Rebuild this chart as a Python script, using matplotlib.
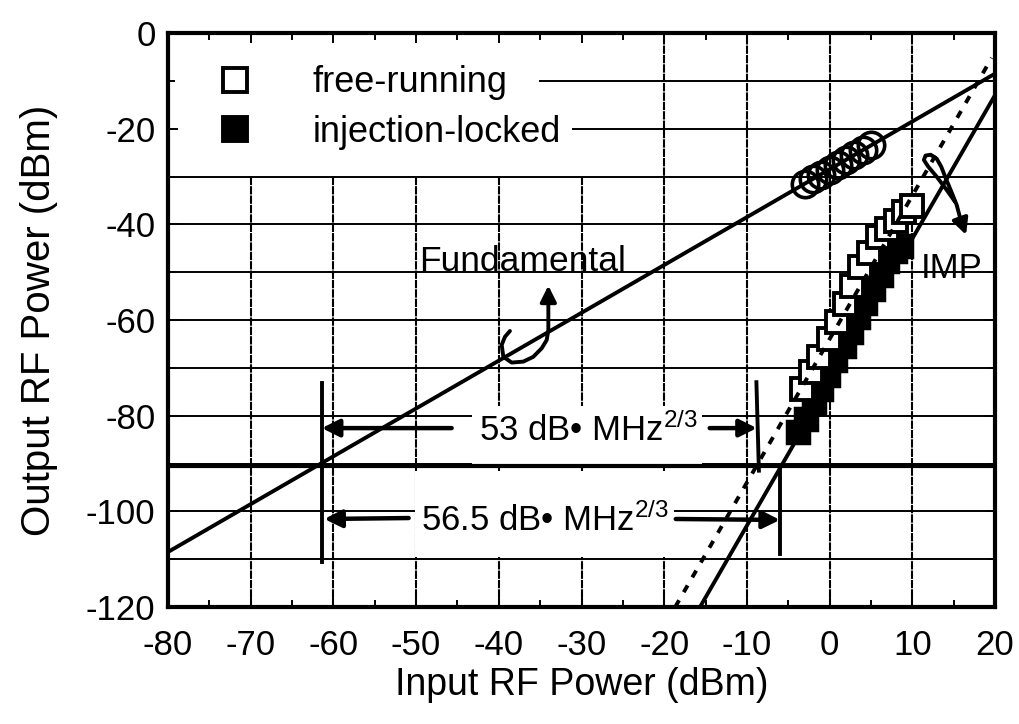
import matplotlib.pyplot as plt
from matplotlib.lines import Line2D
from matplotlib.patches import Rectangle
from matplotlib.ticker import MultipleLocator

plt.rcParams['font.family'] = ['Liberation Sans', 'DejaVu Sans']
plt.rcParams['mathtext.fontset'] = 'custom'
plt.rcParams['mathtext.rm'] = 'Liberation Sans'
plt.rcParams['mathtext.it'] = 'Liberation Sans'
plt.rcParams['axes.unicode_minus'] = False

# fitted lines (input dBm -> output dBm)
fund_x = [-80, 20]
fund_y = [-108.5, -8.5]
imp_x = [-15.67, 20]
imp_y = [-120, -13]
imp_dash_x = [-18.67, 19.6]
imp_dash_y = [-120, -5.2]

# measured fundamental (circles)
circ_x = [-3, -2, -1, 0, 1, 2, 3, 4, 5]
circ_y = [-31.5, -30.6, -29.6, -28.6, -27.5, -26.6, -25.6, -24.5, -23.4]

# measured IMP
free_x = [-3.3, -2.3, -1.3, -0.1, 0.9, 1.9, 2.7, 3.7, 4.8, 5.8, 7.0, 8.0, 9.0, 10.0]
free_y = [-74.4, -70.9, -67.8, -64.0, -60.5, -56.7, -52.8, -49.0, -45.9, -42.7,
          -41.0, -39.2, -37.5, -36.1]
lock_x = [-3.8, -2.9, -1.9, -1.0, -0.2, 0.7, 1.7, 2.6, 3.4, 4.3, 5.3, 6.2, 7.0, 7.9, 8.6]
lock_y = [-83.5, -80.6, -77.4, -74.5, -71.6, -68.4, -65.5, -62.6, -59.4, -56.5,
          -53.6, -50.5, -47.6, -45.5, -44.5]

# dynamic range markers
floor_y = -90.5
vline_left = -61.4
vline_dash = -8.8
vline_solid = -6.0
label_sfdr1 = '53 dB\u2022 MHz$^{2/3}$'
label_sfdr2 = '56.5 dB\u2022 MHz$^{2/3}$'

# hand-drawn pointer paths (data coords)
fund_hook_x = [-38.65, -39.25, -39.65, -39.45, -38.44, -37.04, -35.83, -34.81, -34.21, -34.01, -34.01]
fund_hook_y = [-62.3, -63.5, -65.2, -67.7, -68.9, -68.7, -67.7, -65.9, -64.2, -62.1, -56.4]
fund_hook_tip = (-34.01, -52.8)
imp_loop_x = [15.16, 14.16, 12.95, 11.93, 11.40, 11.60, 12.22, 12.96, 13.50, 14.05, 14.80, 15.37, 15.85]
imp_loop_y = [-35.27, -32.82, -30.04, -27.95, -26.55, -25.62, -25.45, -26.31, -27.95, -30.38, -33.51, -35.96, -39.10]
imp_loop_tip = (16.5, -42.2)

fig = plt.figure(figsize=(10.19, 7.24), dpi=100)
ax = fig.add_axes([168 / 1019, 1 - 607 / 724, 827 / 1019, 574 / 724])
ax.set_xlim(-80, 20)
ax.set_ylim(-120, 0)

# grid, broken where the legend sits
h_grid = [-110, -100, -90, -80, -70, -60, -50, -40, -30, -20, -10]
h_start = [-80, -80, -80, -80, -80, -80, -80, -80, -80, -31, -35]
for y, x0 in zip(h_grid, h_start):
    ax.plot([x0, 20], [y, y], color='k', lw=1.4, zorder=1)
v_grid = [-70, -60, -50, -40, -30, -20, -10, 0, 10]
for x in v_grid:
    top = -30 if x <= -30 else 0
    ax.plot([x, x], [-120, top], color='k', lw=1.5, ls=(0, (4, 0.5)), zorder=1)

# white label boxes
ax.add_patch(Rectangle((-43.2, -90.0), 27.8, 12.0, facecolor='white', edgecolor='none', zorder=2))
ax.add_patch(Rectangle((-50.1, -109.6), 31.3, 18.0, facecolor='white', edgecolor='none', zorder=2))

ax.plot([-80, 20], [floor_y, floor_y], color='k', lw=3.0, zorder=3)

ax.plot(lock_x, lock_y, ls='none', marker='s', ms=16, mfc='k', mec='k', mew=2.5, zorder=4)
ax.plot(free_x, free_y, ls='none', marker='s', ms=16.5, mfc='white', mec='k', mew=2.8, zorder=5)
ax.plot(circ_x, circ_y, ls='none', marker='o', ms=19, mfc='none', mec='k', mew=2.6, zorder=5)

ax.plot(fund_x, fund_y, color='k', lw=2.8, zorder=6)
ax.plot(imp_x, imp_y, color='k', lw=2.8, zorder=6)
ax.plot(imp_dash_x, imp_dash_y, color='k', lw=2.8, ls=(0, (2.0, 2.4)), zorder=6)

# range markers
ax.plot([vline_left, vline_left], [-73.2, -110.6], color='k', lw=2.8, zorder=6)
ax.plot([vline_dash - 0.05, vline_dash + 0.25], [-73.0, -91.5], color='k', lw=2.8, zorder=6)
ax.plot([vline_solid, vline_solid], [-91.0, -109.0], color='k', lw=2.8, zorder=6)

arrow = dict(arrowstyle='-|>', color='k', lw=3.2, mutation_scale=26, shrinkA=0, shrinkB=0)
ax.annotate('', xy=(vline_left, -82.6), xytext=(-45.7, -82.6), arrowprops=arrow, zorder=7)
ax.annotate('', xy=(vline_dash, -82.6), xytext=(-14.5, -82.6), arrowprops=arrow, zorder=7)
ax.annotate('', xy=(vline_left + 0.3, -101.6), xytext=(-50.9, -101.4), arrowprops=arrow, zorder=7)
ax.annotate('', xy=(vline_solid, -101.8), xytext=(-18.6, -101.6), arrowprops=arrow, zorder=7)
ax.text(-29.2, -83.0, label_sfdr1, fontsize=25, ha='center', va='center', zorder=7)
ax.text(-34.4, -101.8, label_sfdr2, fontsize=25, ha='center', va='center', zorder=7)

# curly pointers
hook = dict(arrowstyle='-|>', color='k', lw=2.8, mutation_scale=24, shrinkA=0, shrinkB=0)
ax.plot(fund_hook_x, fund_hook_y, color='k', lw=2.8, zorder=7, solid_capstyle='round')
ax.annotate('', xy=fund_hook_tip, xytext=(fund_hook_x[-1], fund_hook_y[-1]), arrowprops=hook)
ax.plot(imp_loop_x, imp_loop_y, color='k', lw=2.8, zorder=7, solid_capstyle='round')
ax.annotate('', xy=imp_loop_tip, xytext=(imp_loop_x[-1], imp_loop_y[-1]), arrowprops=hook)

ax.text(-49.6, -49.8, 'Fundamental', fontsize=25.5, ha='left', va='baseline', zorder=7)
ax.text(11.0, -51.2, 'IMP', fontsize=25, ha='left', va='baseline', zorder=7)

handles = [
    Line2D([], [], ls='none', marker='s', ms=16.5, mfc='white', mec='k', mew=2.8, label='free-running'),
    Line2D([], [], ls='none', marker='s', ms=16.5, mfc='k', mec='k', mew=2.8, label='injection-locked'),
]
ax.legend(handles=handles, loc='upper left', bbox_to_anchor=(0.0592, 0.944), frameon=False,
          fontsize=26, handlelength=1.0, handletextpad=1.64, labelspacing=0.40,
          borderpad=0, borderaxespad=0, markerscale=1.05)

ax.xaxis.set_major_locator(MultipleLocator(10))
ax.xaxis.set_minor_locator(MultipleLocator(5))
ax.yaxis.set_major_locator(MultipleLocator(20))
ax.yaxis.set_minor_locator(MultipleLocator(10))
ax.tick_params(which='both', direction='in', top=True, right=True, width=1.4)
ax.tick_params(which='major', length=7)
ax.tick_params(which='minor', length=5)
ax.tick_params(axis='x', labelsize=25, pad=16)
ax.tick_params(axis='y', labelsize=25, pad=9)
for s in ax.spines.values():
    s.set_linewidth(3.0)

ax.set_xlabel('Input RF Power (dBm)', fontsize=27)
ax.set_ylabel('Output RF Power (dBm)', fontsize=29)
ax.xaxis.set_label_coords(0.5, -0.105)
ax.yaxis.set_label_coords(-0.133, 0.5)

fig.savefig('out.png', dpi=100)
